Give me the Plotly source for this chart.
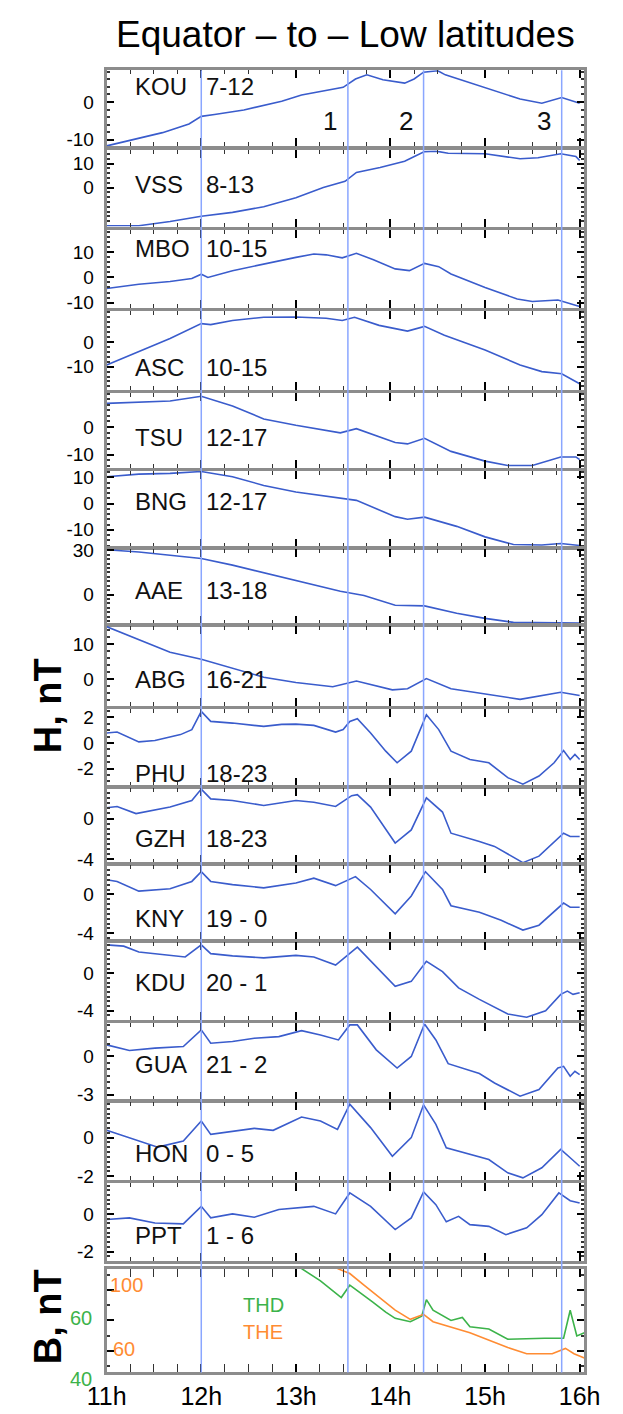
import plotly.graph_objects as go

# ---------------- data ----------------
stations = ["KOU", "VSS", "MBO", "ASC", "TSU", "BNG", "AAE", "ABG",
            "PHU", "GZH", "KNY", "KDU", "GUA", "HON", "PPT"]
local_hours = ["7-12", "8-13", "10-15", "10-15", "12-17", "12-17", "13-18", "16-21",
               "18-23", "18-23", "19 - 0", "20 - 1", "21 - 2", "0 - 5", "1 - 6"]

KOU_t = [11.0, 11.28, 11.59, 11.87, 12.0, 12.14, 12.45, 12.85, 13.06, 13.5, 13.55, 13.63, 13.75, 13.92, 14.15, 14.25, 14.35, 14.5, 14.58, 15.0, 15.37, 15.6, 15.81, 16.0]
KOU_v = [-11.6, -9.9, -8.1, -5.8, -3.8, -3.3, -2.1, 0.2, 1.85, 3.9, 4.8, 6.1, 7.2, 5.9, 5.0, 6.1, 7.9, 8.3, 7.2, 3.9, 0.8, -0.3, 1.2, -0.3]

VSS_t = [11.0, 11.34, 11.67, 12.0, 12.33, 12.66, 13.0, 13.29, 13.52, 13.64, 13.89, 14.15, 14.36, 14.48, 14.61, 15.0, 15.37, 15.56, 15.8, 15.96, 16.0]
VSS_v = [-15.9, -15.9, -14.1, -11.9, -10.3, -8.0, -4.2, 0.0, 2.6, 6.3, 8.4, 11.0, 15.0, 15.2, 14.3, 14.1, 12.0, 12.4, 14.1, 13.0, 11.3]

MBO_t = [11.0, 11.34, 11.67, 11.9, 12.0, 12.07, 12.33, 12.66, 13.0, 13.19, 13.32, 13.49, 13.64, 13.82, 14.05, 14.2, 14.36, 14.51, 14.64, 15.0, 15.34, 15.5, 15.77, 16.0]
MBO_v = [-4.4, -2.7, -1.6, -0.4, 1.3, 0.0, 2.7, 5.4, 8.0, 9.3, 9.0, 7.8, 9.6, 7.0, 3.4, 2.7, 5.6, 4.3, 1.4, -4.0, -8.6, -9.6, -9.0, -11.6]

ASC_t = [11.0, 11.34, 11.67, 12.0, 12.1, 12.33, 12.66, 13.0, 13.32, 13.49, 13.62, 13.88, 14.18, 14.36, 14.57, 15.0, 15.37, 15.6, 15.81, 16.0]
ASC_v = [-9.3, -4.0, 1.4, 7.4, 7.0, 8.7, 10.0, 10.1, 9.6, 8.7, 10.0, 6.7, 4.4, 6.3, 2.7, -3.3, -9.3, -12.0, -12.9, -16.9]

TSU_t = [11.0, 11.67, 12.0, 12.33, 12.66, 13.0, 13.47, 13.64, 14.05, 14.18, 14.36, 14.64, 15.0, 15.24, 15.5, 15.8, 15.96, 16.0]
TSU_v = [8.5, 9.4, 11.1, 7.6, 2.9, 0.6, -2.1, -0.6, -5.6, -6.1, -4.1, -8.8, -12.3, -13.9, -13.9, -10.8, -10.8, -11.8]

BNG_t = [11.0, 11.34, 11.67, 12.0, 12.33, 12.66, 13.0, 13.47, 13.64, 14.05, 14.18, 14.36, 14.7, 15.0, 15.3, 15.6, 15.8, 16.0]
BNG_v = [10.2, 11.2, 11.5, 12.2, 10.2, 6.9, 4.4, 1.9, 1.2, -5.0, -6.0, -5.2, -8.7, -12.7, -15.6, -15.8, -15.2, -16.0]

AAE_t = [11.0, 11.34, 11.67, 12.0, 12.33, 12.66, 13.0, 13.47, 13.72, 14.05, 14.36, 14.7, 15.0, 15.3, 16.0]
AAE_v = [30.5, 28.9, 26.7, 24.5, 20.0, 14.9, 10.0, 2.3, -0.7, -7.3, -7.7, -12.7, -16.2, -18.9, -19.3]

ABG_t = [11.0, 11.34, 11.67, 12.0, 12.33, 12.66, 13.0, 13.39, 13.64, 14.02, 14.18, 14.38, 14.64, 15.0, 15.37, 15.8, 16.0]
ABG_v = [15.0, 11.4, 7.7, 5.7, 3.2, 0.6, -0.9, -2.1, -0.5, -3.0, -2.7, 0.2, -2.7, -4.1, -5.7, -3.7, -4.6]

PHU_t = [11.0, 11.11, 11.34, 11.51, 11.78, 11.9, 12.0, 12.1, 12.33, 12.5, 12.66, 12.85, 13.0, 13.19, 13.42, 13.5, 13.57, 13.65, 13.79, 13.95, 14.07, 14.22, 14.38, 14.51, 14.64, 14.84, 15.04, 15.24, 15.4, 15.57, 15.73, 15.83, 15.9, 15.95, 16.0]
PHU_v = [0.78, 0.85, 0.08, 0.19, 0.65, 1.04, 2.46, 1.68, 1.55, 1.4, 1.29, 1.45, 1.47, 1.37, 0.85, 1.04, 1.68, 1.89, 0.78, -0.64, -1.55, -0.64, 2.2, 1.04, -0.64, -1.29, -1.55, -2.71, -3.22, -2.58, -1.55, -0.59, -1.29, -0.9, -1.29]

GZH_t = [11.0, 11.11, 11.31, 11.67, 11.9, 12.0, 12.1, 12.33, 12.66, 13.0, 13.19, 13.42, 13.59, 13.65, 13.79, 14.05, 14.22, 14.38, 14.55, 14.64, 14.94, 15.1, 15.4, 15.57, 15.83, 15.9, 16.0]
GZH_v = [1.06, 1.18, 0.48, 1.12, 1.76, 2.88, 1.92, 1.76, 1.28, 1.76, 1.6, 1.18, 2.24, 2.34, 1.12, -2.4, -1.12, 2.02, 0.63, -1.44, -2.25, -2.73, -4.33, -3.69, -1.44, -1.77, -1.77]

KNY_t = [11.0, 11.11, 11.34, 11.67, 11.9, 12.0, 12.1, 12.33, 12.66, 13.0, 13.19, 13.42, 13.63, 13.79, 14.05, 14.22, 14.37, 14.55, 14.64, 14.94, 15.17, 15.4, 15.57, 15.83, 15.9, 16.0]
KNY_v = [1.5, 1.33, 0.33, 0.57, 1.33, 2.33, 1.33, 1.0, 0.67, 1.17, 1.67, 0.9, 1.83, 0.5, -2.0, -0.17, 2.33, 0.5, -1.17, -1.83, -2.67, -3.67, -3.17, -0.9, -1.33, -1.33]

KDU_t = [11.0, 11.18, 11.34, 11.67, 11.83, 12.0, 12.1, 12.33, 12.66, 13.0, 13.19, 13.42, 13.65, 14.05, 14.22, 14.38, 14.55, 14.72, 14.94, 15.24, 15.44, 15.64, 15.8, 15.87, 15.93, 16.0]
KDU_v = [3.03, 2.89, 2.26, 1.91, 1.74, 3.03, 2.09, 1.85, 1.64, 1.91, 1.74, 0.87, 2.79, -1.39, -0.87, 1.28, 0.17, -1.57, -2.79, -4.35, -4.7, -4.0, -2.26, -1.91, -2.26, -2.09]

GUA_t = [11.0, 11.24, 11.51, 11.81, 12.0, 12.1, 12.33, 12.56, 12.82, 13.06, 13.26, 13.45, 13.57, 13.65, 13.85, 14.07, 14.22, 14.36, 14.48, 14.61, 14.94, 15.1, 15.37, 15.57, 15.77, 15.83, 15.9, 15.95, 16.0]
GUA_v = [0.91, 0.47, 0.65, 0.78, 2.09, 1.04, 1.17, 1.43, 1.56, 2.03, 1.69, 1.3, 2.48, 2.48, 0.52, -0.91, 0.0, 2.55, 1.3, -0.57, -1.35, -2.09, -3.13, -2.6, -0.91, -0.78, -1.56, -1.17, -1.43]

HON_t = [11.0, 11.34, 11.54, 11.81, 12.0, 12.1, 12.33, 12.56, 12.76, 13.06, 13.26, 13.44, 13.57, 13.79, 14.02, 14.22, 14.35, 14.48, 14.59, 14.84, 15.04, 15.24, 15.4, 15.6, 15.8, 15.9, 16.0]
HON_v = [0.38, -0.18, -0.49, -0.18, 0.86, 0.17, 0.34, 0.48, 0.38, 1.07, 0.86, 0.43, 1.73, 0.52, -0.96, 0.0, 1.7, 0.69, -0.52, -0.87, -1.13, -1.82, -2.08, -1.56, -0.61, -1.04, -1.48]

PPT_t = [11.0, 11.24, 11.51, 11.81, 12.0, 12.1, 12.33, 12.56, 12.82, 13.19, 13.42, 13.57, 13.79, 14.05, 14.22, 14.35, 14.48, 14.59, 14.72, 14.84, 15.04, 15.22, 15.44, 15.6, 15.78, 15.9, 16.0]
PPT_v = [-0.3, -0.21, -0.48, -0.53, 0.4, -0.21, 0.0, -0.18, 0.23, 0.4, 0.0, 1.11, 0.4, -0.83, -0.21, 1.16, 0.49, -0.42, -0.13, -0.57, -0.66, -1.1, -0.74, -0.04, 1.11, 0.7, 0.58]

THD_t = [13.06, 13.26, 13.48, 13.57, 13.81, 13.95, 14.05, 14.21, 14.33, 14.38, 14.45, 14.64, 14.76, 14.84, 15.04, 15.24, 15.63, 15.83, 15.9, 15.97, 16.05]
THD_v = [77.2, 73.1, 67.6, 71.7, 66.2, 62.8, 60.7, 59.6, 61.4, 66.9, 63.4, 60.0, 61.0, 57.9, 57.2, 53.8, 54.1, 54.1, 63.4, 54.9, 55.9]
THE_t = [13.44, 13.57, 13.72, 13.89, 14.05, 14.21, 14.35, 14.45, 14.84, 15.24, 15.44, 15.71, 15.85, 15.94, 16.05]
THE_v = [110.7, 107.5, 100.0, 92.0, 84.0, 78.1, 81.3, 76.6, 69.5, 60.0, 56.0, 56.0, 59.4, 56.0, 53.3]

event_times = [12.0, 13.55, 14.35, 15.81]
event_labels = ["", "1", "2", "3"]
hour_ticks = [11, 12, 13, 14, 15, 16]
hour_labels = ["11h", "12h", "13h", "14h", "15h", "16h"]

series_t = [KOU_t, VSS_t, MBO_t, ASC_t, TSU_t, BNG_t, AAE_t, ABG_t, PHU_t, GZH_t, KNY_t, KDU_t, GUA_t, HON_t, PPT_t]
series_v = [KOU_v, VSS_v, MBO_v, ASC_v, TSU_v, BNG_v, AAE_v, ABG_v, PHU_v, GZH_v, KNY_v, KDU_v, GUA_v, HON_v, PPT_v]

# ---------------- layout settings ----------------
W, H = 623, 1414
X0, X1 = 92, 599
XRANGE = [11, 16.05]
panels_px = [(62, 139), (143, 220), (224, 302), (305, 385), (388, 464), (467, 544), (546, 622),
             (624, 705), (708, 786), (788, 864), (866, 942), (944, 1023), (1026, 1103),
             (1106, 1184), (1187, 1266), (1274, 1379)]
yranges = [[-11.75, 8.4], [-16.2, 15.5], [-12, 18.7], [-19.3, 12.7], [-14.7, 12.4], [-16.5, 12.5],
           [-20, 31.1], [-7.6, 15.2], [-3.37, 2.65], [-4.38, 2.98], [-4.73, 3.0], [-5.04, 3.3],
           [-3.39, 2.6], [-2.17, 1.82], [-2.48, 1.66]]
ytickvals = [[0, -10], [10, 0], [10, 0, -10], [0, -10], [0, -10], [10, 0, -10], [30, 0], [10, 0],
             [2, 0, -2], [0, -4], [0, -4], [0, -4], [0, -3], [0, -2], [0, -2]]
yminor = [2, 2, 2, 2, 2, 2, 3, 2, 0.5, 0.5, 0.5, 0.5, 0.5, 0.25, 0.25]
label_y = [78, 178, 242, 363, 433, 498, 588, 678, 773, 839, 920, 985, 1068, 1158, 1241]
B_green_range = [42.8, 77.2]
B_orange_range = [44.0, 110.7]

FONT = "Liberation Sans, Arial, sans-serif"
LINE_BLUE = "#3a5ccc"
EVENT_BLUE = "#8aa6ff"
FRAME = "#8c8c8c"
GREEN = "#3cb34a"
ORANGE = "#ff8c33"

def px(x):
    return x / W

def py(y):
    return 1 - y / H

fig = go.Figure()
layout = dict(width=W, height=H, margin=dict(l=0, r=0, t=0, b=0),
              paper_bgcolor="white", plot_bgcolor="rgba(0,0,0,0)",
              showlegend=False, font=dict(family=FONT, color="black"))

npan = len(panels_px)
for i in range(npan):
    k = i + 1
    top, bot = panels_px[i]
    xa = dict(domain=[px(X0), px(X1)], range=XRANGE, anchor=f"y{k}",
              showline=True, mirror="allticks", linecolor=FRAME, linewidth=3,
              ticks="inside", tickvals=hour_ticks, ticklen=8, tickwidth=2, tickcolor="black",
              minor=dict(ticks="inside", dtick=0.25, tick0=11, ticklen=4, tickwidth=1, tickcolor="#333"),
              showgrid=False, zeroline=False, fixedrange=True,
              showticklabels=(k == npan))
    if k == npan:
        xa.update(ticktext=hour_labels, tickfont=dict(size=25, family=FONT, color="black"))
    if k > 1:
        xa["matches"] = "x"
    layout["xaxis" if k == 1 else f"xaxis{k}"] = xa

    ya = dict(domain=[py(bot), py(top)], anchor=f"x{k}",
              showline=True, mirror="allticks", linecolor=FRAME, linewidth=3,
              ticks="inside", ticklen=7, tickwidth=1.5, tickcolor="black",
              showgrid=False, zeroline=False, fixedrange=True,
              tickfont=dict(size=19, family=FONT, color="black"), ticklabelstandoff=6)
    if k < npan:
        ya.update(range=yranges[i], tickvals=ytickvals[i],
                  ticktext=[str(v) for v in ytickvals[i]],
                  minor=dict(ticks="inside", dtick=yminor[i], ticklen=3, tickcolor="#333"))
    else:
        ya.update(range=B_green_range, tickvals=[50, 60, 70], showticklabels=False,
                  minor=dict(ticks="inside", dtick=5, ticklen=3, tickcolor="#333"))
    layout["yaxis" if k == 1 else f"yaxis{k}"] = ya

# orange axis overlaying the B panel
layout["yaxis17"] = dict(overlaying="y16", range=B_orange_range, visible=False, fixedrange=True)

# station traces
for i in range(len(stations)):
    k = i + 1
    fig.add_trace(go.Scatter(x=series_t[i], y=series_v[i], mode="lines",
                             line=dict(color=LINE_BLUE, width=1.6),
                             xaxis="x" if k == 1 else f"x{k}", yaxis="y" if k == 1 else f"y{k}",
                             name=stations[i]))

fig.add_trace(go.Scatter(x=THD_t, y=THD_v, mode="lines", line=dict(color=GREEN, width=1.6),
                         xaxis="x16", yaxis="y16", name="THD"))
fig.add_trace(go.Scatter(x=THE_t, y=THE_v, mode="lines", line=dict(color=ORANGE, width=1.6),
                         xaxis="x16", yaxis="y17", name="THE"))

# event lines
shapes = []
for t in event_times:
    shapes.append(dict(type="line", xref="x", yref="paper", x0=t, x1=t,
                       y0=py(panels_px[-1][1]), y1=py(panels_px[0][0]),
                       line=dict(color=EVENT_BLUE, width=1.5), layer="above"))
layout["shapes"] = shapes

ann = []
ann.append(dict(text="Equator – to – Low latitudes", x=px(345), y=py(26), xref="paper", yref="paper",
                showarrow=False, font=dict(size=37, family=FONT, color="black"),
                xanchor="center", yanchor="middle"))
for i in range(len(stations)):
    ann.append(dict(text=stations[i], x=px(120), y=py(label_y[i]), xref="paper", yref="paper",
                    showarrow=False, font=dict(size=24, family=FONT, color="#111"),
                    xanchor="left", yanchor="middle"))
    ann.append(dict(text=local_hours[i], x=px(195), y=py(label_y[i]), xref="paper", yref="paper",
                    showarrow=False, font=dict(size=24, family=FONT, color="#111"),
                    xanchor="left", yanchor="middle"))
for t, lab in zip(event_times, event_labels):
    if lab:
        ann.append(dict(text=lab, x=t, y=py(113), xref="x", yref="paper", xshift=-9,
                        showarrow=False, font=dict(size=26, family=FONT, color="#111"),
                        xanchor="right", yanchor="middle"))
ann.append(dict(text="<b>H, nT</b>", x=px(30), y=py(705), xref="paper", yref="paper", textangle=-90,
                showarrow=False, font=dict(size=38, family=FONT, color="black"),
                xanchor="center", yanchor="middle"))
ann.append(dict(text="<b>B, nT</b>", x=px(30), y=py(1323), xref="paper", yref="paper", textangle=-90,
                showarrow=False, font=dict(size=38, family=FONT, color="black"),
                xanchor="center", yanchor="middle"))
# B-panel scale labels
ann.append(dict(text="100", x=px(93), y=py(1291), xref="paper", yref="paper", showarrow=False,
                font=dict(size=20, family=FONT, color=ORANGE), xanchor="left", yanchor="middle"))
ann.append(dict(text="60", x=px(97), y=py(1355), xref="paper", yref="paper", showarrow=False,
                font=dict(size=20, family=FONT, color=ORANGE), xanchor="left", yanchor="middle"))
ann.append(dict(text="60", x=px(79), y=py(1324), xref="paper", yref="paper", showarrow=False,
                font=dict(size=20, family=FONT, color=GREEN), xanchor="right", yanchor="middle"))
ann.append(dict(text="40", x=px(79), y=py(1386), xref="paper", yref="paper", showarrow=False,
                font=dict(size=20, family=FONT, color=GREEN), xanchor="right", yanchor="middle"))
ann.append(dict(text="THD", x=px(235), y=py(1311), xref="paper", yref="paper", showarrow=False,
                font=dict(size=20, family=FONT, color=GREEN), xanchor="left", yanchor="middle"))
ann.append(dict(text="THE", x=px(235), y=py(1338), xref="paper", yref="paper", showarrow=False,
                font=dict(size=20, family=FONT, color=ORANGE), xanchor="left", yanchor="middle"))
layout["annotations"] = ann

fig.update_layout(**layout)
fig.write_html("out.html")
